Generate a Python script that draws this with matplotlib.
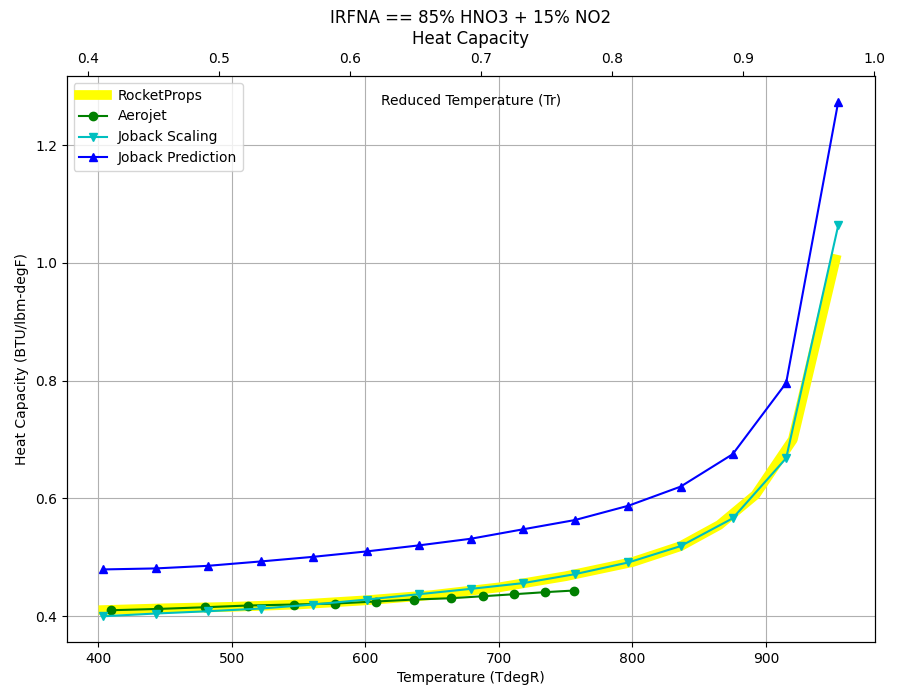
import matplotlib
matplotlib.use('Agg')
import matplotlib.pyplot as plt

# critical temperature used for the reduced temperature axis (degR)
Tc = 981.0

# RocketProps curve
rp_T = [404, 450, 500, 550, 600, 650, 700, 750, 800, 836, 865, 892, 920, 952]
rp_cp = [0.4105, 0.4135, 0.416, 0.420, 0.427, 0.436, 0.449, 0.468, 0.492,
         0.519, 0.555, 0.606, 0.700, 1.006]

# Aerojet data
aj_T = [409.5, 444.7, 479.9, 512.1, 546.6, 577.3, 608.0, 636.5, 664.2,
        688.2, 711.4, 734.6, 756.3]
aj_cp = [0.4102, 0.4124, 0.4153, 0.4182, 0.4199, 0.4216, 0.4250, 0.4284,
         0.4306, 0.4340, 0.4374, 0.4409, 0.4437]

# Joback temperatures
jb_T = [404, 443, 482, 522, 561, 601, 640, 679, 718, 757, 797, 836, 875, 915, 954]

# Joback Scaling
js_cp = [0.400, 0.4046, 0.4085, 0.4131, 0.4199, 0.4284, 0.4374, 0.4465,
         0.4562, 0.4715, 0.4914, 0.5191, 0.5663, 0.6684, 1.0638]

# Joback Prediction
jp_cp = [0.4795, 0.4812, 0.4856, 0.4931, 0.5009, 0.5101, 0.5203, 0.5316,
         0.5476, 0.5634, 0.5877, 0.6201, 0.6752, 0.7961, 1.2737]

fig, ax = plt.subplots(figsize=(9, 7), dpi=100)
fig.subplots_adjust(left=0.0741, right=0.9722, top=0.8914, bottom=0.0829)

ax.plot(rp_T, rp_cp, '-', color='yellow', linewidth=7, label='RocketProps')
ax.plot(aj_T, aj_cp, 'o-', color='g', label='Aerojet')
ax.plot(jb_T, js_cp, 'v-', color='c', label='Joback Scaling')
ax.plot(jb_T, jp_cp, '^-', color='b', label='Joback Prediction')

ax.set_xlabel('Temperature (TdegR)')
ax.set_ylabel('Heat Capacity (BTU/lbm-degF)')
ax.grid(True)
ax.legend(loc='upper left')

# reduced temperature on the top axis
ax2 = ax.twiny()
x0, x1 = ax.get_xlim()
ax2.set_xlim(x0 / Tc, x1 / Tc)
ax2.set_xlabel('Reduced Temperature (Tr)')
ax2.xaxis.set_label_coords(0.5, 0.949)

ax2.set_title('IRFNA == 85% HNO3 + 15% NO2\nHeat Capacity')

fig.savefig('out.png', dpi=100)
